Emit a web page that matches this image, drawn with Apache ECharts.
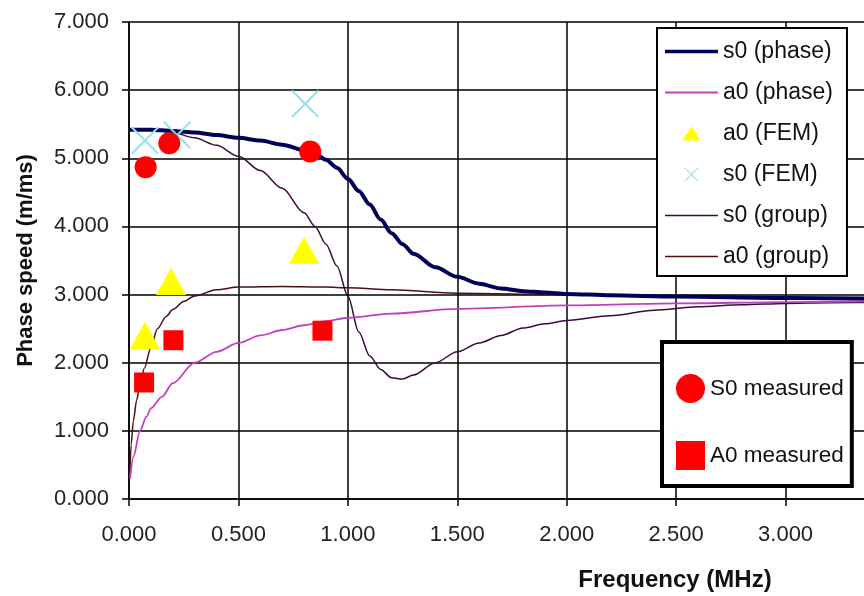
<!DOCTYPE html>
<html>
<head>
<meta charset="utf-8">
<script src="https://cdn.jsdelivr.net/npm/echarts@6/dist/echarts.min.js"></script>
<style>html,body{margin:0;padding:0;background:#fff}#c{width:864px;height:596px}</style>
</head>
<body>
<div id="c"></div>
<script>
// ---- data (frequency MHz, phase speed m/ms) ----
var s0PhaseX = [0, 0.1, 0.2, 0.3, 0.4, 0.5, 0.6, 0.7, 0.8, 0.85, 0.9, 0.95, 1.0, 1.05, 1.1, 1.15, 1.2, 1.25, 1.3, 1.4, 1.5, 1.6, 1.7, 1.8, 1.9, 2.0, 2.2, 2.5, 3.0, 3.5];
var s0PhaseY = [5.42, 5.42, 5.40, 5.38, 5.34, 5.30, 5.26, 5.20, 5.12, 5.07, 4.98, 4.86, 4.70, 4.52, 4.32, 4.10, 3.90, 3.74, 3.60, 3.40, 3.26, 3.16, 3.09, 3.05, 3.03, 3.01, 2.99, 2.97, 2.95, 2.94];

var a0PhaseX = [0.005, 0.02, 0.05, 0.08, 0.1, 0.15, 0.2, 0.3, 0.4, 0.5, 0.6, 0.7, 0.8, 0.9, 1.0, 1.2, 1.5, 2.0, 2.5, 3.0, 3.5];
var a0PhaseY = [0.30, 0.62, 1.00, 1.21, 1.33, 1.50, 1.70, 2.00, 2.16, 2.29, 2.40, 2.48, 2.55, 2.61, 2.66, 2.72, 2.79, 2.84, 2.87, 2.89, 2.91];

var s0GroupX = [0, 0.1, 0.2, 0.3, 0.4, 0.5, 0.6, 0.7, 0.8, 0.85, 0.9, 0.95, 1.0, 1.05, 1.1, 1.15, 1.2, 1.25, 1.3, 1.4, 1.5, 1.6, 1.7, 1.8, 1.9, 2.0, 2.2, 2.4, 2.6, 2.8, 3.0, 3.2, 3.5];
var s0GroupY = [5.42, 5.41, 5.38, 5.30, 5.19, 5.03, 4.82, 4.56, 4.20, 4.00, 3.74, 3.42, 2.98, 2.45, 2.10, 1.90, 1.78, 1.76, 1.82, 2.00, 2.16, 2.29, 2.40, 2.51, 2.57, 2.62, 2.69, 2.77, 2.82, 2.85, 2.87, 2.88, 2.89];

var a0GroupX = [0.003, 0.01, 0.02, 0.035, 0.05, 0.07, 0.1, 0.13, 0.17, 0.2, 0.25, 0.3, 0.4, 0.5, 0.7, 0.9, 1.0, 1.2, 1.5, 2.0, 2.5, 3.0, 3.5];
var a0GroupY = [0.30, 0.80, 1.15, 1.45, 1.68, 1.92, 2.22, 2.50, 2.68, 2.78, 2.90, 2.98, 3.07, 3.11, 3.12, 3.11, 3.10, 3.07, 3.02, 3.00, 2.97, 2.95, 2.93];

var a0FemX = [0.073, 0.192, 0.800];
var a0FemY = [2.40, 3.19, 3.65];

var s0FemX = [0.073, 0.220, 0.805];
var s0FemY = [5.26, 5.34, 5.80];

var s0MeasX = [0.076, 0.184, 0.828];
var s0MeasY = [4.87, 5.22, 5.10];

var a0MeasX = [0.069, 0.203, 0.884];
var a0MeasY = [1.71, 2.33, 2.47];

var xTicks = [0, 0.5, 1.0, 1.5, 2.0, 2.5, 3.0, 3.5];
var yTicks = [0, 1, 2, 3, 4, 5, 6, 7];

function pairs(xs, ys) { return xs.map(function (x, i) { return [x, ys[i]]; }); }

var FONT = 'Liberation Sans';
var crossPath = 'path://M0,0.5 L0.5,0 L5,4.5 L9.5,0 L10,0.5 L5.5,5 L10,9.5 L9.5,10 L5,5.5 L0.5,10 L0,9.5 L4.5,5 Z';
var triPath = 'path://M6,0 L12,9 L0,9 Z';

var chart = echarts.init(document.getElementById('c'), null, { renderer: 'canvas' });
chart.setOption({
  animation: false,
  backgroundColor: '#fff',
  grid: { left: 129, top: 22, bottom: 97, right: -31, containLabel: false, outerBoundsMode: 'none' },
  xAxis: {
    type: 'value', min: xTicks[0], max: xTicks[xTicks.length - 1], interval: 0.5,
    name: 'Frequency (MHz)', nameLocation: 'middle', nameGap: 69,
    nameTextStyle: { fontFamily: FONT, fontSize: 24, fontWeight: 'bold', color: '#111', padding: [0, 0, 0, 326] },
    axisLine: { show: true, onZero: false, lineStyle: { color: '#000', width: 1.5 } },
    axisTick: { show: true, length: 7, lineStyle: { color: '#000', width: 1.5 } },
    axisLabel: { fontFamily: FONT, fontSize: 22, color: '#222', margin: 25, formatter: function (v) { return v.toFixed(3); } },
    splitLine: { show: true, lineStyle: { color: '#000', width: 1.5 } }
  },
  yAxis: {
    type: 'value', min: yTicks[0], max: yTicks[yTicks.length - 1], interval: 1,
    name: 'Phase speed (m/ms)', nameLocation: 'middle', nameGap: 92, nameRotate: 90,
    nameTextStyle: { fontFamily: FONT, fontSize: 22, fontWeight: 'bold', color: '#111' },
    axisLine: { show: true, lineStyle: { color: '#000', width: 1.5 } },
    axisTick: { show: true, length: 7, lineStyle: { color: '#000', width: 1.5 } },
    axisLabel: { fontFamily: FONT, fontSize: 22, color: '#222', margin: 20, formatter: function (v) { return v.toFixed(3); } },
    splitLine: { show: true, lineStyle: { color: '#000', width: 1.5 } }
  },
  legend: [
    {
      orient: 'vertical', left: 657, top: 28,
      padding: [12, 14, 8, 8], itemWidth: 53, itemHeight: 14, itemGap: 18,
      backgroundColor: '#fff', borderColor: '#000', borderWidth: 2, borderRadius: 0,
      textStyle: { fontFamily: FONT, fontSize: 23, color: '#111' },
      data: [
        { name: 's0 (phase)', icon: 'path://M0,0H53V3.4H0Z' },
        { name: 'a0 (phase)', icon: 'path://M0,0H53V1.8H0Z' },
        { name: 'a0 (FEM)', icon: triPath },
        { name: 's0 (FEM)', icon: crossPath },
        { name: 's0 (group)', icon: 'path://M0,0H53V1.6H0Z' },
        { name: 'a0 (group)', icon: 'path://M0,0H53V1.6H0Z' }
      ]
    },
    {
      orient: 'vertical', left: 662, top: 342,
      padding: [32, 8, 16, 14], itemWidth: 29, itemHeight: 29, itemGap: 38,
      backgroundColor: '#fff', borderColor: '#000', borderWidth: 4, borderRadius: 0,
      textStyle: { fontFamily: FONT, fontSize: 22.5, color: '#111' },
      data: ['S0 measured', 'A0 measured']
    }
  ],
  series: [
    { name: 'a0 (group)', type: 'line', data: pairs(a0GroupX, a0GroupY), symbol: 'none', smooth: 0.3, smoothMonotone: 'x',
      lineStyle: { color: '#4a1010', width: 1.5 }, itemStyle: { color: '#4a1010' }, z: 2 },
    { name: 's0 (group)', type: 'line', data: pairs(s0GroupX, s0GroupY), symbol: 'none', smooth: 0.3, smoothMonotone: 'x',
      lineStyle: { color: '#3a0a3a', width: 1.5 }, itemStyle: { color: '#3a0a3a' }, z: 2 },
    { name: 'a0 (phase)', type: 'line', data: pairs(a0PhaseX, a0PhaseY), symbol: 'none', smooth: 0.3, smoothMonotone: 'x',
      lineStyle: { color: '#c040c0', width: 1.8 }, itemStyle: { color: '#c040c0' }, z: 2 },
    { name: 's0 (phase)', type: 'line', data: pairs(s0PhaseX, s0PhaseY), symbol: 'none', smooth: 0.3, smoothMonotone: 'x',
      lineStyle: { color: '#000058', width: 4 }, itemStyle: { color: '#000058' }, z: 3 },
    { name: 'a0 (FEM)', type: 'scatter', data: pairs(a0FemX, a0FemY), symbol: 'triangle', symbolSize: [30, 27],
      itemStyle: { color: '#ffff00', opacity: 1 }, z: 4 },
    { name: 's0 (FEM)', type: 'scatter', data: pairs(s0FemX, s0FemY), symbol: crossPath, symbolSize: 28, symbolKeepAspect: true,
      itemStyle: { color: '#8fe3ea', opacity: 1 }, z: 4 },
    { name: 'S0 measured', type: 'scatter', data: pairs(s0MeasX, s0MeasY), symbol: 'circle', symbolSize: 22,
      itemStyle: { color: '#ff0000', opacity: 1 }, z: 5 },
    { name: 'A0 measured', type: 'scatter', data: pairs(a0MeasX, a0MeasY), symbol: 'rect', symbolSize: 20,
      itemStyle: { color: '#ff0000', opacity: 1 }, z: 5 }
  ]
});
</script>
</body>
</html>
